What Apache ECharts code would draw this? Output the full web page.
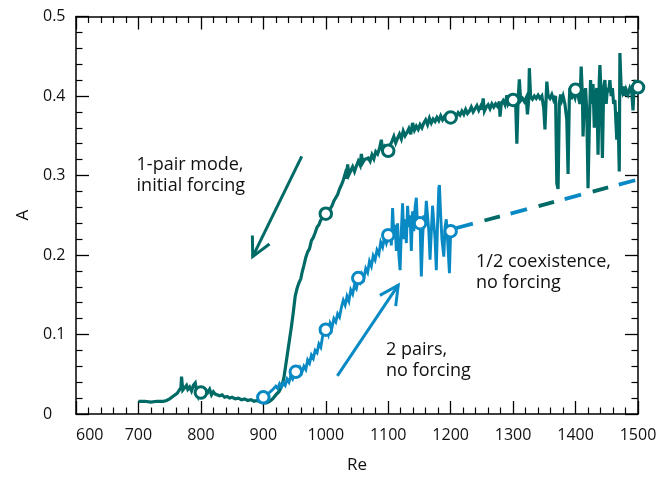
<!DOCTYPE html>
<html>
<head>
<meta charset="utf-8">
<script src="https://cdn.jsdelivr.net/npm/echarts@6/dist/echarts.min.js"></script>
<style>
html,body{margin:0;padding:0;background:#fff;}
#c{width:668px;height:479px;}
</style>
</head>
<body>
<div id="c"></div>
<script>
// ---- data ----
var xTicks = [600, 700, 800, 900, 1000, 1100, 1200, 1300, 1400, 1500];
var yTicks = [0, 0.1, 0.2, 0.3, 0.4, 0.5];

// 1-pair mode, initial forcing (teal)
var tealRe = [700,710,720,730,740,745,750,755,758,762,765,768,769,771,774,777,779,782,785,788,791,793,796,799,802,805,808,811,814,817,820,823,826,830,834,838,842,846,850,855,860,865,870,875,880,885,890,895,900,905,910,915,920,925,930,933,936,939,942,945,948,951,954,957,960,962,965,968,971,974,977,980,983,986,989,992,995,998,1001,1004,1007,1010,1013,1016,1019,1022,1025,1028,1031,1033,1035,1037,1040,1043,1046,1049,1052,1055,1057,1059,1062,1065,1068,1071,1074,1077,1080,1083,1086,1089,1091,1094,1097,1100,1103,1106,1109,1112,1115,1118,1121,1124,1127,1130,1133,1136,1139,1142,1145,1148,1151,1154,1157,1160,1163,1166,1169,1172,1175,1178,1181,1184,1187,1190,1193,1196,1200,1204,1208,1212,1215,1218,1221,1224,1227,1230,1233,1236,1239,1242,1245,1248,1250,1252,1254,1257,1260,1263,1266,1269,1272,1275,1278,1279,1281,1284,1287,1290,1292,1295,1298,1301,1304,1306,1308,1310,1312,1315,1318,1321,1323,1325,1326,1328,1331,1334,1337,1340,1343,1346,1349,1351,1353,1354,1356,1359,1362,1365,1368,1370,1372,1374,1376,1378,1380,1383,1386,1388,1390,1391,1393,1396,1399,1401,1404,1407,1409,1411,1412,1414,1416,1418,1420,1422,1424,1426,1428,1430,1432,1434,1436,1438,1439,1441,1443,1445,1447,1449,1451,1453,1455,1457,1459,1461,1463,1466,1468,1470,1471,1473,1475,1477,1479,1481,1484,1487,1490,1492,1494,1496,1498,1500];
var tealA = [0.016,0.016,0.015,0.016,0.016,0.017,0.019,0.022,0.021,0.026,0.024,0.033,0.047,0.030,0.028,0.036,0.031,0.034,0.029,0.036,0.039,0.030,0.022,0.028,0.026,0.024,0.030,0.027,0.031,0.024,0.028,0.025,0.027,0.023,0.024,0.021,0.022,0.020,0.021,0.019,0.020,0.018,0.019,0.017,0.018,0.016,0.017,0.015,0.014,0.014,0.016,0.019,0.024,0.028,0.036,0.046,0.062,0.078,0.094,0.110,0.128,0.148,0.158,0.165,0.170,0.178,0.187,0.197,0.204,0.208,0.218,0.222,0.228,0.235,0.238,0.244,0.246,0.250,0.252,0.255,0.258,0.262,0.268,0.272,0.276,0.283,0.288,0.294,0.302,0.296,0.314,0.301,0.306,0.311,0.305,0.312,0.318,0.313,0.327,0.316,0.320,0.318,0.322,0.318,0.326,0.321,0.330,0.327,0.334,0.345,0.330,0.336,0.332,0.331,0.338,0.343,0.349,0.341,0.347,0.352,0.346,0.356,0.350,0.354,0.359,0.352,0.366,0.357,0.362,0.358,0.364,0.360,0.366,0.370,0.364,0.372,0.366,0.371,0.368,0.373,0.369,0.375,0.370,0.374,0.371,0.376,0.373,0.377,0.372,0.379,0.376,0.381,0.377,0.383,0.378,0.381,0.386,0.380,0.384,0.388,0.382,0.387,0.383,0.397,0.381,0.386,0.389,0.384,0.390,0.386,0.390,0.387,0.393,0.374,0.390,0.394,0.389,0.401,0.390,0.394,0.391,0.395,0.392,0.340,0.396,0.421,0.394,0.397,0.393,0.398,0.377,0.396,0.435,0.399,0.396,0.400,0.397,0.401,0.397,0.400,0.385,0.358,0.400,0.418,0.400,0.397,0.402,0.395,0.400,0.290,0.283,0.390,0.402,0.395,0.400,0.390,0.370,0.302,0.395,0.410,0.396,0.404,0.398,0.408,0.400,0.390,0.437,0.400,0.349,0.395,0.410,0.380,0.284,0.360,0.420,0.390,0.415,0.360,0.400,0.410,0.326,0.420,0.439,0.400,0.322,0.410,0.420,0.390,0.410,0.405,0.420,0.400,0.410,0.390,0.395,0.345,0.380,0.305,0.454,0.410,0.405,0.412,0.400,0.408,0.402,0.410,0.405,0.382,0.415,0.420,0.405,0.410];

// 2 pairs, no forcing (blue)
var blueRe = [900,904,908,911,914,917,920,923,926,929,932,935,938,941,944,947,950,953,956,959,962,965,968,971,974,977,980,983,986,989,992,995,998,1001,1004,1007,1010,1013,1016,1019,1022,1025,1028,1031,1034,1037,1040,1043,1046,1049,1052,1055,1058,1061,1064,1067,1070,1073,1076,1079,1082,1085,1088,1091,1094,1097,1100,1103,1105,1107,1109,1111,1113,1115,1117,1119,1121,1123,1125,1127,1129,1131,1133,1135,1137,1139,1141,1143,1145,1147,1149,1151,1153,1155,1157,1159,1161,1163,1165,1167,1169,1171,1173,1175,1177,1179,1181,1182,1184,1186,1189,1191,1193,1195,1198,1200];
var blueA = [0.018,0.020,0.026,0.025,0.030,0.028,0.035,0.032,0.038,0.034,0.039,0.036,0.044,0.040,0.048,0.044,0.050,0.054,0.051,0.058,0.053,0.060,0.056,0.068,0.064,0.074,0.070,0.080,0.077,0.088,0.084,0.098,0.101,0.106,0.100,0.114,0.109,0.120,0.116,0.126,0.122,0.134,0.143,0.137,0.148,0.142,0.156,0.151,0.162,0.158,0.170,0.166,0.176,0.171,0.183,0.178,0.192,0.186,0.199,0.194,0.206,0.201,0.216,0.210,0.222,0.215,0.224,0.230,0.212,0.259,0.225,0.238,0.205,0.240,0.200,0.181,0.230,0.265,0.220,0.245,0.215,0.262,0.235,0.250,0.205,0.255,0.230,0.260,0.272,0.235,0.245,0.240,0.173,0.220,0.250,0.240,0.268,0.270,0.230,0.194,0.230,0.262,0.240,0.220,0.181,0.240,0.284,0.288,0.250,0.220,0.198,0.235,0.245,0.220,0.177,0.230];

// 1/2 coexistence (dashed)
var dashRe = [1200, 1500];
var dashA = [0.232, 0.295];

// open-circle markers
var tealMarkRe = [800, 1000, 1100, 1200, 1300, 1400, 1500];
var tealMarkA = [0.027, 0.252, 0.331, 0.373, 0.395, 0.408, 0.411];
var blueMarkRe = [900, 952, 1000, 1052, 1100, 1151, 1200];
var blueMarkA = [0.021, 0.053, 0.106, 0.171, 0.225, 0.240, 0.230];

// annotations (data coordinates)
var tealArrow = [[961.5, 0.324], [883, 0.198]];
var blueArrow = [[1018.5, 0.048], [1116, 0.162]];
var notes = [
  {text: '1-pair mode,\ninitial forcing', at: [697, 0.300]},
  {text: '2 pairs,\nno forcing', at: [1096.5, 0.067]},
  {text: '1/2 coexistence,\nno forcing', at: [1240.6, 0.178]}
];

// ---- chart ----
var TEAL = '#006a66', BLUE = '#0a8ac4', FONT = 'Open Sans';
function zip(a, b) { return a.map(function (v, i) { return [v, b[i]]; }); }

var chart = echarts.init(document.getElementById('c'), null, {renderer: 'canvas'});

function xAx(pos, labels) {
  return {
    type: 'value', position: pos, min: xTicks[0], max: xTicks[xTicks.length - 1], interval: 100,
    axisLine: {show: true, onZero: false, lineStyle: {color: '#000', width: 1.5}},
    axisTick: {show: true, inside: true, length: 13, lineStyle: {color: '#000', width: 1.3}},
    minorTick: {show: true, splitNumber: 5, length: 6.5, lineStyle: {color: '#000', width: 1.2}},
    splitLine: {show: false}, minorSplitLine: {show: false},
    axisLabel: {show: labels, fontFamily: FONT, fontSize: 16, color: '#111', margin: 13, alignMinLabel: 'left',
      formatter: function (v) { return String(Math.round(v)); }},
    name: labels ? 'Re' : '', nameLocation: 'middle', nameGap: 43,
    nameTextStyle: {fontFamily: FONT, fontSize: 17, color: '#111'}
  };
}
function yAx(pos, labels) {
  return {
    type: 'value', position: pos, min: yTicks[0], max: yTicks[yTicks.length - 1], interval: 0.1,
    axisLine: {show: true, onZero: false, lineStyle: {color: '#000', width: 1.5}},
    axisTick: {show: true, inside: true, length: 13, lineStyle: {color: '#000', width: 1.3}},
    minorTick: {show: true, splitNumber: 5, length: 6.5, lineStyle: {color: '#000', width: 1.2}},
    splitLine: {show: false}, minorSplitLine: {show: false},
    axisLabel: {show: labels, fontFamily: FONT, fontSize: 16, color: '#111', margin: 33, align: 'left',
      formatter: function (v) { return v === 0 ? '0' : v.toFixed(1); }},
    name: labels ? 'A' : '', nameLocation: 'middle', nameGap: 38,
    nameTextStyle: {fontFamily: FONT, fontSize: 17, color: '#111'}
  };
}

chart.setOption({
  animation: false,
  backgroundColor: '#fff',
  grid: {left: 76, right: 30, top: 16.5, bottom: 65, containLabel: false},
  xAxis: [xAx('bottom', true), xAx('top', false)],
  yAxis: [yAx('left', true), yAx('right', false)],
  series: [
    {
      type: 'line', name: 'teal', data: zip(tealRe, tealA), showSymbol: false, symbol: 'none',
      lineStyle: {color: TEAL, width: 3.2, join: 'miter', miterLimit: 4}, z: 2
    },
    {
      type: 'line', name: 'blue', data: zip(blueRe, blueA), showSymbol: false, symbol: 'none',
      lineStyle: {color: BLUE, width: 2.9, join: 'miter', miterLimit: 4}, z: 3
    },
    {
      type: 'line', data: zip(dashRe, dashA), showSymbol: false, symbol: 'none', z: 3,
      lineStyle: {color: BLUE, width: 3.8, type: [17, 39], dashOffset: 50, cap: 'butt'}
    },
    {
      type: 'line', data: zip(dashRe, dashA), showSymbol: false, symbol: 'none', z: 3,
      lineStyle: {color: TEAL, width: 3.8, type: [16, 40], dashOffset: 21, cap: 'butt'}
    },
    {
      type: 'scatter', data: zip(tealMarkRe, tealMarkA), symbol: 'circle', symbolSize: 11.5, clip: false, z: 5,
      itemStyle: {color: '#fff', borderColor: TEAL, borderWidth: 3, opacity: 1}
    },
    {
      type: 'scatter', data: zip(blueMarkRe, blueMarkA), symbol: 'circle', symbolSize: 11.5, clip: false, z: 5,
      itemStyle: {color: '#fff', borderColor: BLUE, borderWidth: 3, opacity: 1}
    }
  ]
});

function arrow(pts, color) {
  var a = chart.convertToPixel({gridIndex: 0}, pts[0]);
  var b = chart.convertToPixel({gridIndex: 0}, pts[1]);
  var ang = Math.atan2(a[1] - b[1], a[0] - b[0]);
  var L = 21, h = 27 * Math.PI / 180;
  var p1 = [b[0] + L * Math.cos(ang + h), b[1] + L * Math.sin(ang + h)];
  var p2 = [b[0] + L * Math.cos(ang - h), b[1] + L * Math.sin(ang - h)];
  return [
    {type: 'line', silent: true, z: 10, shape: {x1: a[0], y1: a[1], x2: b[0], y2: b[1]},
      style: {stroke: color, lineWidth: 3}},
    {type: 'polyline', silent: true, z: 10, shape: {points: [p1, b, p2]},
      style: {stroke: color, lineWidth: 3, fill: null, lineJoin: 'miter', miterLimit: 10}}
  ];
}

var g = notes.map(function (n) {
  var p = chart.convertToPixel({gridIndex: 0}, n.at);
  return {
    type: 'text', x: p[0], y: p[1], silent: true, z: 10,
    style: {text: n.text, fontFamily: FONT, fontSize: 18, lineHeight: 21, fill: '#111',
      align: 'left', verticalAlign: 'middle'}
  };
});
g = g.concat(arrow(tealArrow, TEAL), arrow(blueArrow, BLUE));
chart.setOption({graphic: g});
</script>
</body>
</html>
